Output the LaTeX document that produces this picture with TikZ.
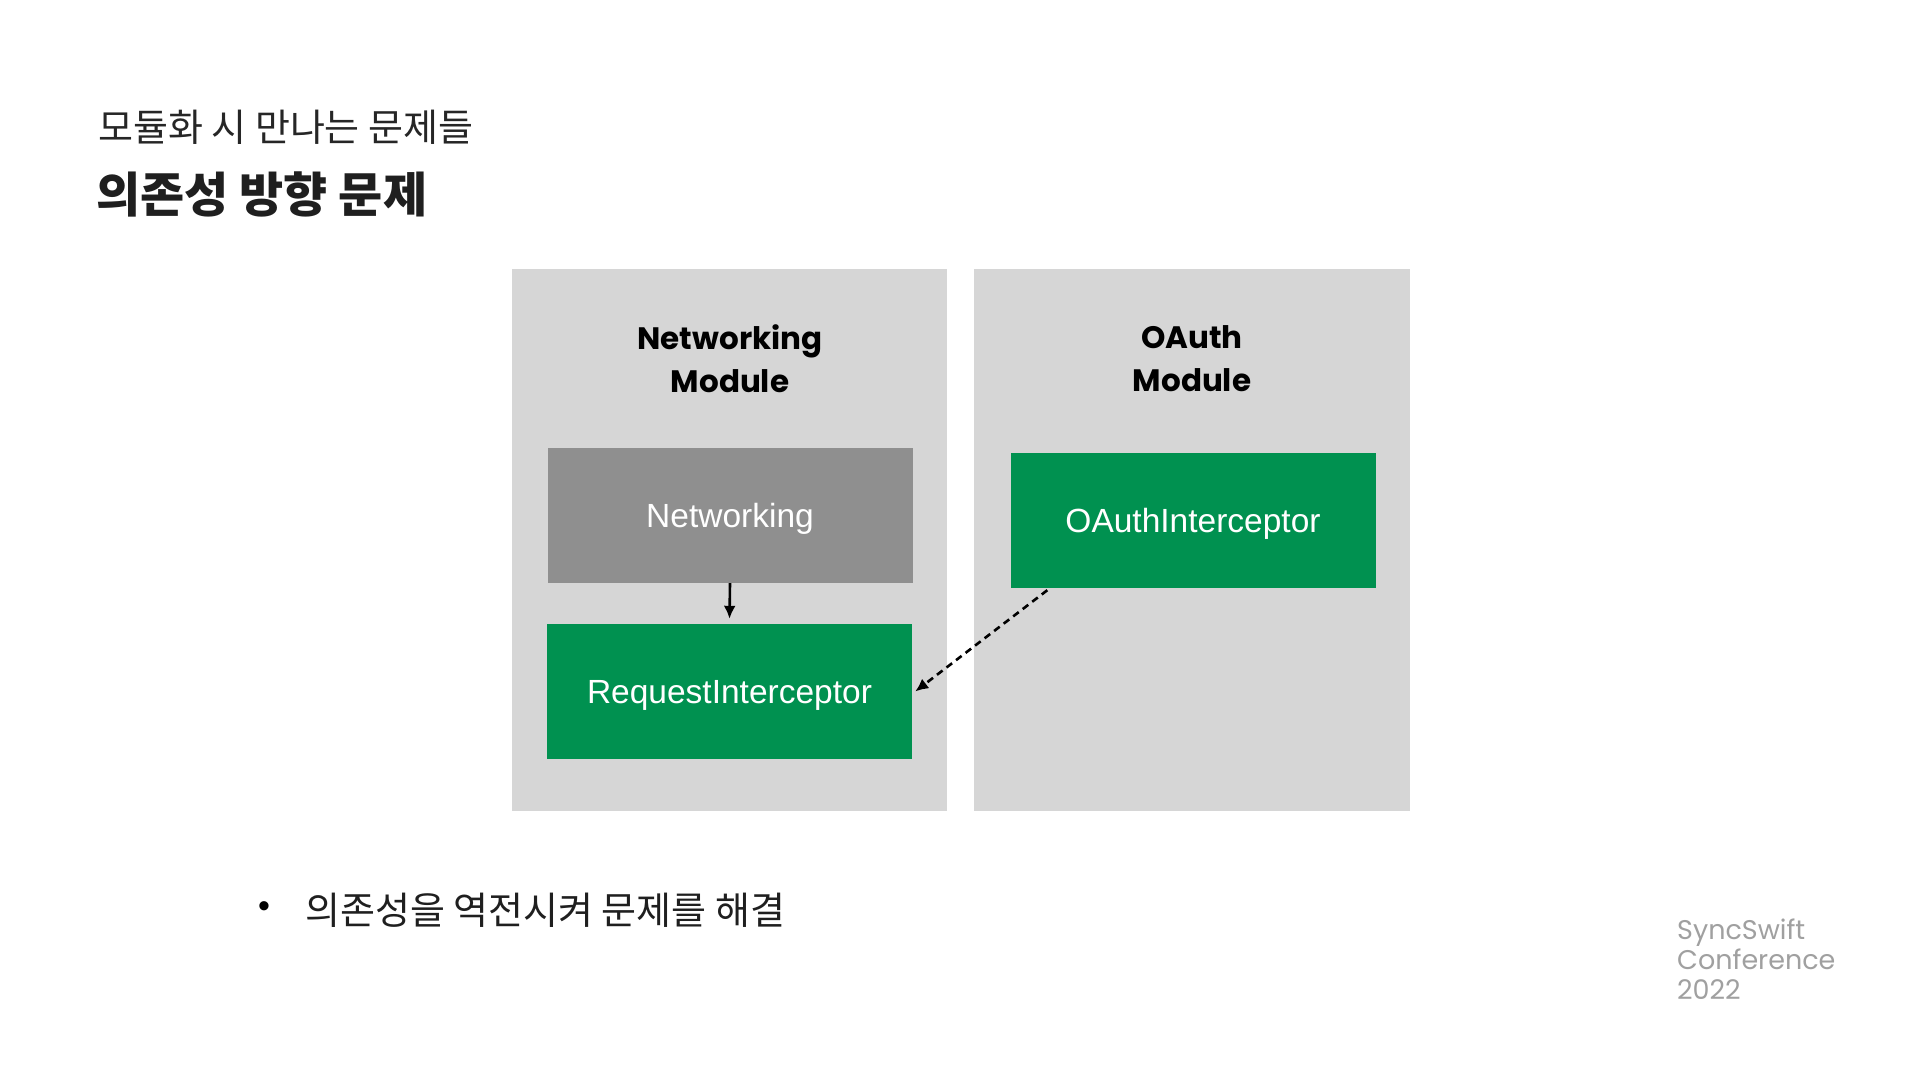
\documentclass[tikz,border=0pt]{standalone}
\usepackage{fontspec}
\setmainfont{Liberation Sans}
\newfontfamily\poppins{Poppins}
\newfontfamily\kr{Noto Sans CJK KR}
\usetikzlibrary{arrows.meta,calc}
\definecolor{panelgray}{HTML}{D6D6D6}
\definecolor{boxgray}{HTML}{8F8F8F}
\definecolor{boxgreen}{HTML}{009150}
\definecolor{logogray}{HTML}{A0A0A0}
\tikzset{
  panel/.style={fill=panelgray, draw=none, inner sep=0pt},
  modtitle/.style={font=\poppins\bfseries\fontsize{31}{43}\selectfont, align=center, text=black, inner sep=0pt},
  compbox/.style={draw=none, text=white, font=\fontsize{33.5}{38}\selectfont, minimum width=365pt, minimum height=135pt, inner sep=0pt, text height=24pt, text depth=0pt},
  conn/.style={line width=2.6pt, -{Latex[length=13pt,width=12pt]}},
  dconn/.style={line width=2.6pt, dash pattern=on 7pt off 5pt, -{Latex[length=13pt,width=12pt]}}
}
\begin{document}
\begin{tikzpicture}[x=1pt,y=-1pt]
\useasboundingbox[fill=white] (0,0) rectangle (1920,1080);
% titles
\node[anchor=west, inner sep=0pt, font=\kr\fontsize{38}{44}\selectfont, text=black!85] (sub) at (98,127) {모듈화 시 만나는 문제들};
\node[anchor=west, inner sep=0pt, font=\kr\bfseries\fontsize{48}{54}\selectfont, text=black!88] (title) at (96,194) {의존성 방향 문제};
% panels
\node[panel, minimum width=435pt, minimum height=542pt] (netmod) at (729.5,540) {};
\node[panel, minimum width=436pt, minimum height=542pt] (oauthmod) at (1192,540) {};
\node[modtitle] (netmodt) at (730,359) {Networking\\Module};
\node[modtitle] (oauthmodt) at (1192,359) {OAuth\\Module};
% components
\node[compbox, fill=boxgray] (net) at (730,515.5) {Networking};
\node[compbox, fill=boxgreen] (req) at (729.5,691.5) {RequestInterceptor};
\node[compbox, fill=boxgreen] (oauth) at (1193,520.5) {OAuthInterceptor};
% connectors
\draw[conn] (net.south) -- ([yshift=5pt]req.north);
\draw[dconn] ([xshift=37pt,yshift=-2pt]oauth.south west) -- ([xshift=3pt]req.east);
% bullet
\node[anchor=center, inner sep=0pt] (bul) at (264,910) {\fontsize{34}{40}\selectfont\textbullet};
\node[anchor=west, inner sep=0pt, font=\kr\fontsize{38}{44}\selectfont, text=black!88] (btext) at (305,910) {의존성을 역전시켜 문제를 해결};
% logo
\node[anchor=west, align=left, inner sep=0pt, text=logogray, font=\poppins\fontsize{27}{30}\selectfont] (logo) at (1677,959) {SyncSwift\\Conference\\2022};
\end{tikzpicture}
\end{document}
